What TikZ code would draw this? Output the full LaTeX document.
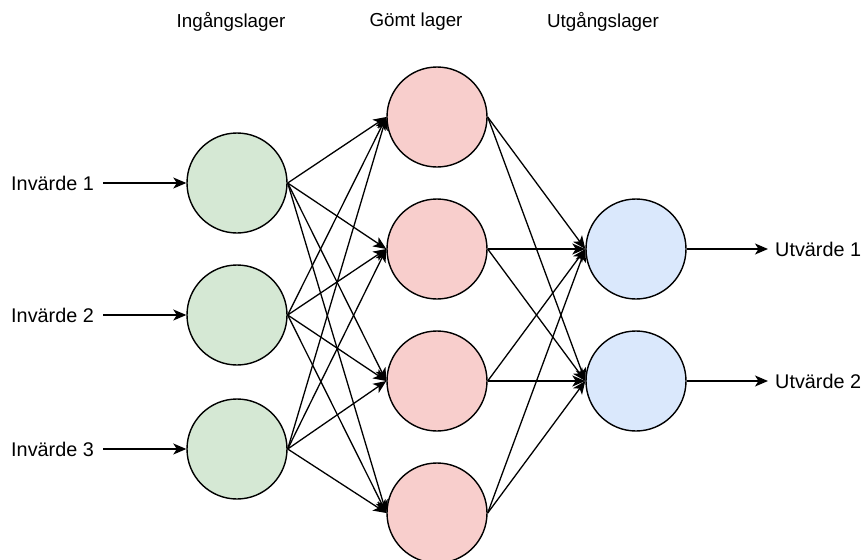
\documentclass[tikz,border=0pt]{standalone}
\usepackage{fontspec}
\setmainfont{Liberation Sans}
\usetikzlibrary{arrows.meta}
\definecolor{ingreen}{HTML}{D5E8D4}
\definecolor{hidred}{HTML}{F8CECC}
\definecolor{outblue}{HTML}{DAE8FC}
\begin{document}
\begin{tikzpicture}[x=1pt,y=-1pt,
  neuron/.style={circle,draw=black,line width=1.4pt,minimum size=100pt,inner sep=0pt},
  inneuron/.style={neuron,fill=ingreen},
  hidneuron/.style={neuron,fill=hidred},
  outneuron/.style={neuron,fill=outblue},
  lbl/.style={font=\fontsize{19.8}{24}\selectfont,inner sep=0pt},
  title/.style={font=\fontsize{18.8}{23}\selectfont,inner sep=0pt},
  conn/.style={line width=1.3pt,-{Stealth[length=13pt,width=11pt,inset=3.5pt]}}]
\useasboundingbox (0,0) rectangle (863,560);

% layer titles
\node[title] (t1) at (231,22) {Ingångslager};
\node[title] (t2) at (416,22) {Gömt lager};
\node[title] (t3) at (603,22) {Utgångslager};

% neurons
\node[inneuron] (i1) at (237,183) {};
\node[inneuron] (i2) at (237,315) {};
\node[inneuron] (i3) at (237,449) {};
\node[hidneuron] (h1) at (437,117) {};
\node[hidneuron] (h2) at (437,249) {};
\node[hidneuron] (h3) at (437,381) {};
\node[hidneuron] (h4) at (437,513) {};
\node[outneuron] (o1) at (636,249) {};
\node[outneuron] (o2) at (636,381) {};

% inputs
\node[lbl,anchor=east] (x1) at (94,183) {Invärde 1};
\node[lbl,anchor=east] (x2) at (94,315) {Invärde 2};
\node[lbl,anchor=east] (x3) at (94,449) {Invärde 3};
\foreach \k in {1,2,3} \draw[conn] (x\k.east) ++(9,0) -- (i\k.west);

% outputs
\node[lbl,anchor=west] (y1) at (775,249) {Utvärde 1};
\node[lbl,anchor=west] (y2) at (775,381) {Utvärde 2};
\draw[conn] (o1.east) -- ([xshift=-7pt]y1.west);
\draw[conn] (o2.east) -- ([xshift=-7pt]y2.west);

% fully connected layers
\foreach \a in {1,2,3}
  \foreach \b in {1,2,3,4}
    \draw[conn] (i\a.east) -- (h\b.west);
\foreach \a in {1,2,3,4}
  \foreach \b in {1,2}
    \draw[conn] (h\a.east) -- (o\b.west);
\end{tikzpicture}
\end{document}
